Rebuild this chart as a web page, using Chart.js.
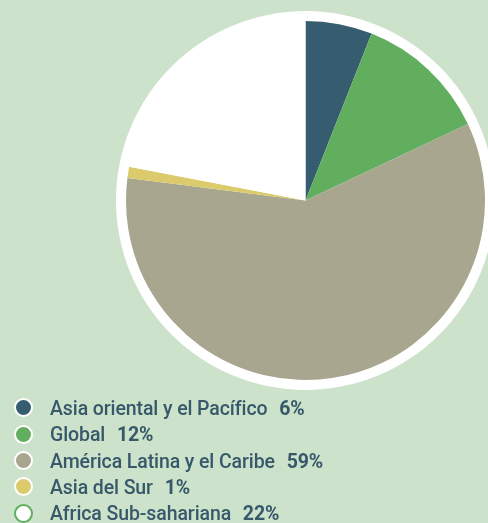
<!DOCTYPE html>
<html>
<head>
<meta charset="utf-8">
<script src="https://cdn.jsdelivr.net/npm/chart.js@4/dist/chart.umd.min.js"></script>
<style>
  html, body { margin: 0; padding: 0; }
  body { width: 488px; height: 523px; background: #cce2ca; position: relative; overflow: hidden; }
  #chart { position: absolute; left: 0; top: 0; }
  #legend { position: absolute; left: 14px; top: 396px; list-style: none; margin: 0; padding: 0;
    font-family: "Roboto", sans-serif; font-weight: 500; letter-spacing: -0.1px; font-size: 19.5px; color: #36586a; }
  #legend li { height: 26.3px; line-height: 26.3px; white-space: nowrap; }
  #legend .dot { display: inline-block; width: 15px; height: 15px; border-radius: 50%; border: 2.5px solid #fff;
    vertical-align: middle; margin-right: 17px; position: relative; top: -2px; }
  #legend b { margin-left: 7px; font-weight: 700; }
</style>
</head>
<body>
<canvas id="chart" width="488" height="523"></canvas>
<ul id="legend"></ul>
<script>
let regions = ['Asia oriental y el Pacífico', 'Global', 'América Latina y el Caribe', 'Asia del Sur', 'Africa Sub-sahariana'];
let shares = [6, 12, 59, 1, 22];
let colors = ['#355d6f', '#62ae5f', '#a8a68f', '#dccb6c', '#ffffff'];
let markerBorders = ['#ffffff', '#ffffff', '#ffffff', '#ffffff', '#62ae5f'];

// white disc behind the slices
const ringPlugin = {
  id: 'ring',
  beforeDatasetsDraw(chart) {
    const arc = chart.getDatasetMeta(0).data[0];
    if (!arc) return;
    const ctx = chart.ctx;
    ctx.save();
    ctx.beginPath();
    ctx.arc(arc.x, arc.y, arc.outerRadius + 10, 0, Math.PI * 2);
    ctx.fillStyle = '#ffffff';
    ctx.fill();
    ctx.restore();
  }
};

new Chart(document.getElementById('chart'), {
  type: 'pie',
  data: {
    labels: regions,
    datasets: [{
      data: shares,
      backgroundColor: colors,
      borderWidth: 0,
    }]
  },
  options: {
    responsive: false,
    animation: false,
    layout: { padding: { left: 126, top: 21, right: 3, bottom: 143 } },
    plugins: {
      legend: { display: false },
      tooltip: { enabled: false },
    }
  },
  plugins: [ringPlugin]
});

const legend = document.getElementById('legend');
regions.forEach((name, i) => {
  const li = document.createElement('li');
  const dot = document.createElement('span');
  dot.className = 'dot';
  dot.style.background = colors[i];
  dot.style.borderColor = markerBorders[i];
  li.appendChild(dot);
  li.appendChild(document.createTextNode(name + ' '));
  const b = document.createElement('b');
  b.textContent = shares[i] + '%';
  li.appendChild(b);
  legend.appendChild(li);
});
</script>
</body>
</html>
